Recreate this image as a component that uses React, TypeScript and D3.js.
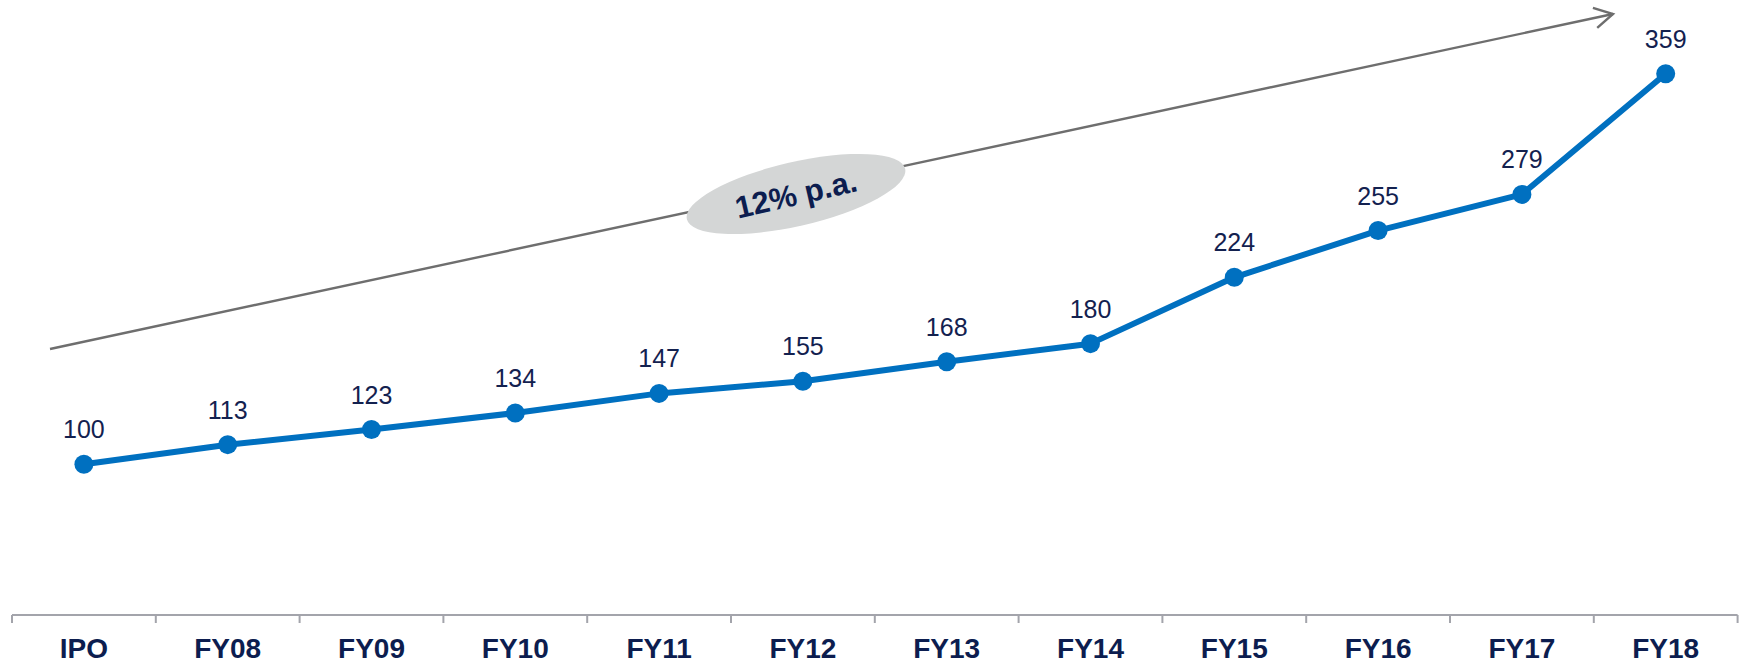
import React from "react";
import * as d3 from "d3";

const categories = ["IPO", "FY08", "FY09", "FY10", "FY11", "FY12", "FY13", "FY14", "FY15", "FY16", "FY17", "FY18"];
const values = [100, 113, 123, 134, 147, 155, 168, 180, 224, 255, 279, 359];
const growthLabel = "12% p.a.";

const W = 1743;
const H = 663;

export default function App() {
  const x = d3.scaleBand<string>().domain(categories).range([12, 1737.6]).padding(0);
  const y = d3.scaleLinear().domain([0, 400]).range([615, 12]);
  const cx = (c: string) => (x(c) as number) + x.bandwidth() / 2;

  const line = d3
    .line<number>()
    .x((_, i) => cx(categories[i]))
    .y((v) => y(v));

  // trend arrow
  const ax0 = 50, ay0 = 349, ax1 = 1613, ay1 = 14;
  const ang = Math.atan2(ay1 - ay0, ax1 - ax0);
  const headLen = 21;
  const headSpread = 0.51;
  const h1x = ax1 - headLen * Math.cos(ang - headSpread);
  const h1y = ay1 - headLen * Math.sin(ang - headSpread);
  const h2x = ax1 - headLen * Math.cos(ang + headSpread);
  const h2y = ay1 - headLen * Math.sin(ang + headSpread);

  const ex = 796, ey = 194;
  const rot = -13;

  const ticks = d3.range(categories.length + 1).map((i) => 12 + i * x.step());

  return (
    <div style={{ position: "absolute", left: 0, top: 0 }}>
      <svg width={W} height={H} style={{ display: "block", background: "#fff" }}>
        <line x1={ax0} y1={ay0} x2={ax1} y2={ay1} stroke="#6e6e6e" strokeWidth={2.4} />
        <polyline
          points={`${h1x},${h1y} ${ax1},${ay1} ${h2x},${h2y}`}
          fill="none"
          stroke="#6e6e6e"
          strokeWidth={2.4}
        />
        <g transform={`translate(${ex},${ey}) rotate(${rot})`}>
          <ellipse cx={0} cy={0} rx={112} ry={32} fill="#d4d6d6" />
          <text
            x={0}
            y={11}
            textAnchor="middle"
            fontFamily="'Liberation Sans', Arial, sans-serif"
            fontWeight="bold"
            fontSize={31}
            fill="#0c1d4f"
          >
            {growthLabel}
          </text>
        </g>

        {/* category axis */}
        <line x1={12} y1={615} x2={1737.6} y2={615} stroke="#a3a4ab" strokeWidth={2} />
        {ticks.map((t, i) => (
          <line key={i} x1={t} y1={615} x2={t} y2={623} stroke="#a3a4ab" strokeWidth={2} />
        ))}
        {categories.map((c) => (
          <text
            key={c}
            x={cx(c)}
            y={658}
            textAnchor="middle"
            fontFamily="'Liberation Sans', Arial, sans-serif"
            fontWeight="bold"
            fontSize={28}
            fill="#0c1d4f"
          >
            {c}
          </text>
        ))}

        <path d={line(values) || ""} fill="none" stroke="#0070c0" strokeWidth={6} strokeLinejoin="round" />
        {values.map((v, i) => (
          <circle key={i} cx={cx(categories[i])} cy={y(v)} r={9.5} fill="#0070c0" />
        ))}
        {values.map((v, i) => (
          <text
            key={i}
            x={cx(categories[i])}
            y={y(v) - 26}
            textAnchor="middle"
            fontFamily="'Liberation Sans', Arial, sans-serif"
            fontSize={25}
            fill="#13214f"
          >
            {v}
          </text>
        ))}
      </svg>
    </div>
  );
}
